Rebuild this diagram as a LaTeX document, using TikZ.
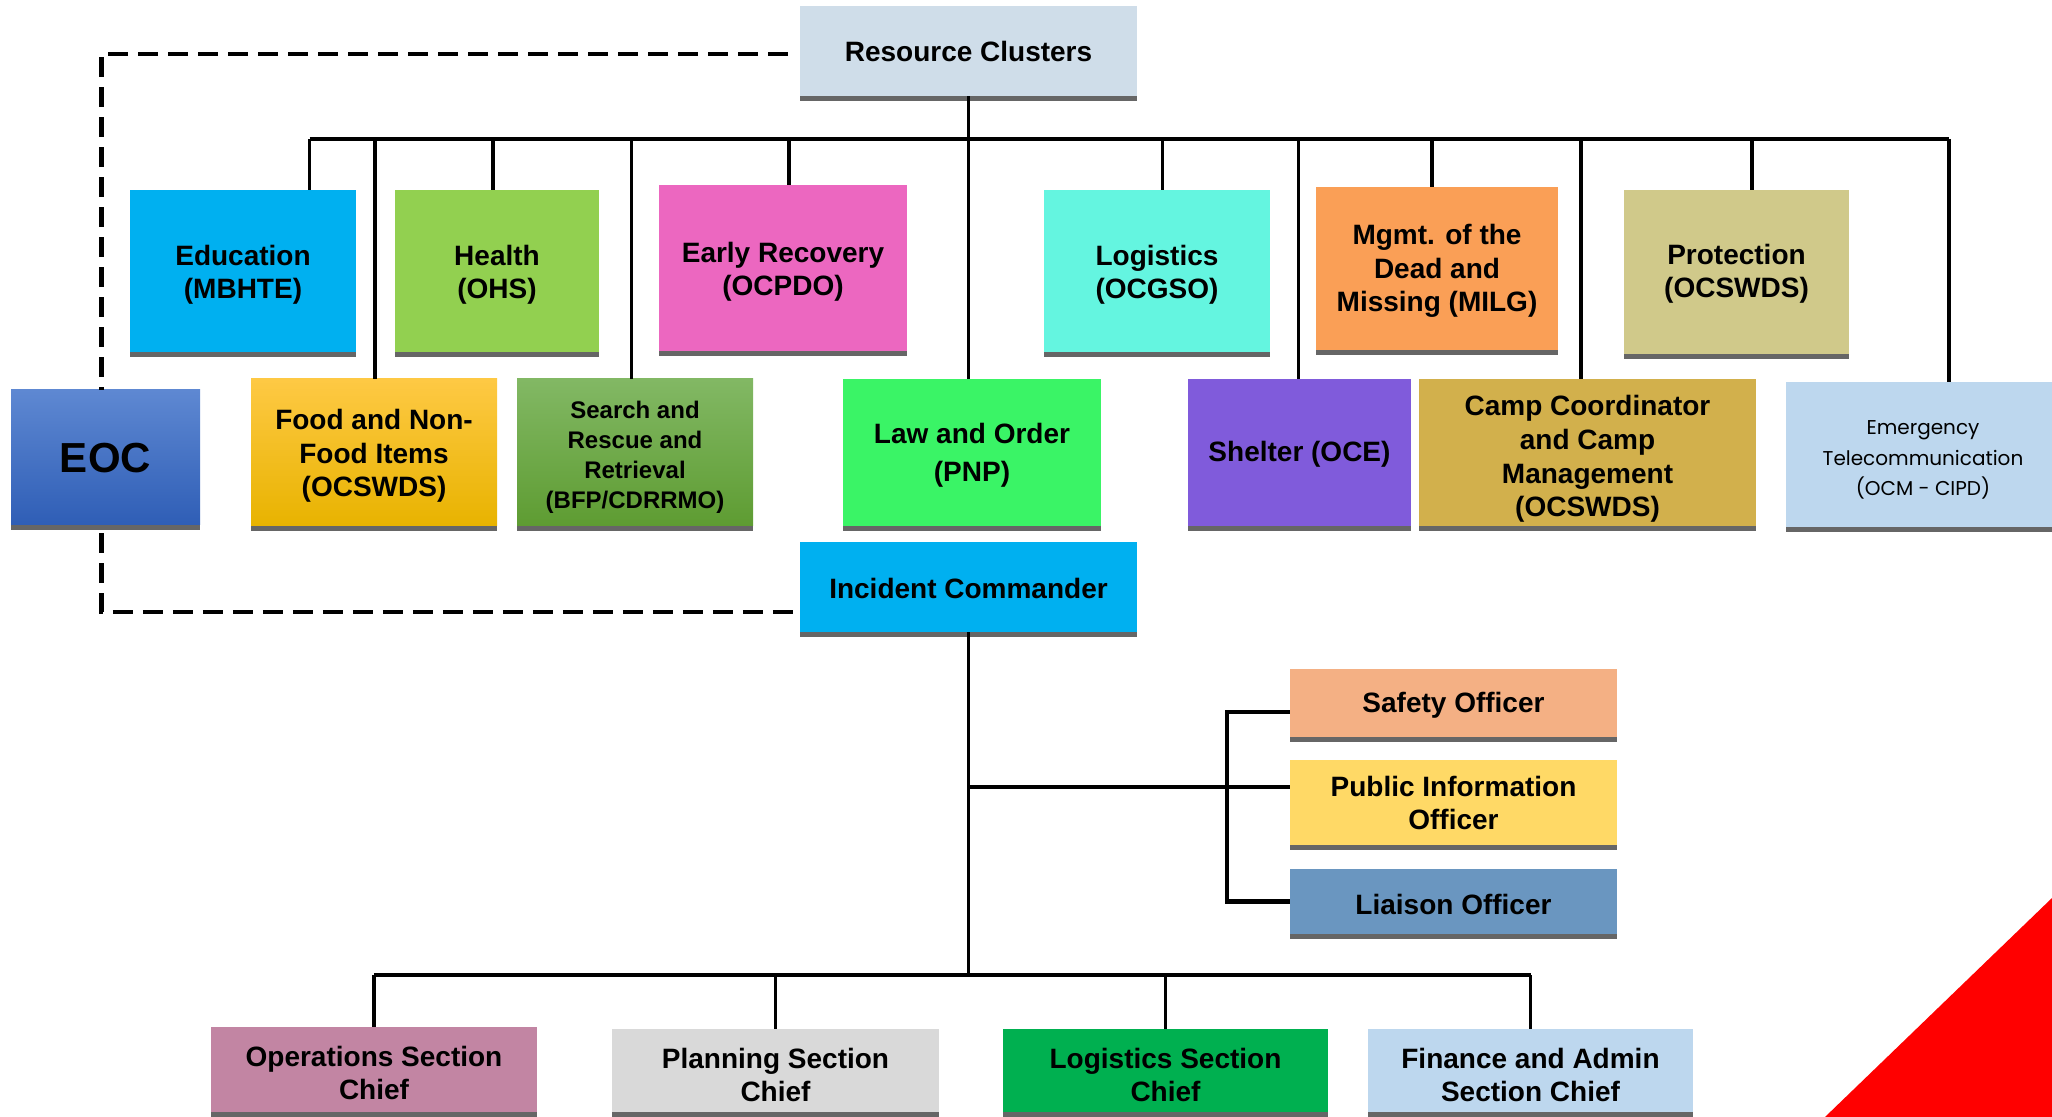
\documentclass[tikz,border=0pt]{standalone}
\usepackage{fontspec}
\setmainfont{Liberation Sans}
\newfontfamily\gothic{Poppins}
\usetikzlibrary{shadows}
\definecolor{cRC}{HTML}{CFDDE9}
\definecolor{cEdu}{HTML}{00B0F0}
\definecolor{cHealth}{HTML}{92D050}
\definecolor{cEarly}{HTML}{EC67C0}
\definecolor{cLogi}{HTML}{64F5E0}
\definecolor{cMgmt}{HTML}{FA9F56}
\definecolor{cProt}{HTML}{D0C98A}
\definecolor{cEocT}{HTML}{5E88D2}
\definecolor{cEocB}{HTML}{2F5EB6}
\definecolor{cFoodT}{HTML}{FEC944}
\definecolor{cFoodB}{HTML}{E8B300}
\definecolor{cSearchT}{HTML}{82B864}
\definecolor{cSearchB}{HTML}{5E9C32}
\definecolor{cLaw}{HTML}{3AF466}
\definecolor{cShelter}{HTML}{805BDB}
\definecolor{cCamp}{HTML}{D2B04C}
\definecolor{cEmerg}{HTML}{BDD7EE}
\definecolor{cSafety}{HTML}{F4B084}
\definecolor{cPio}{HTML}{FFD966}
\definecolor{cLiaison}{HTML}{6A96C0}
\definecolor{cOps}{HTML}{C285A3}
\definecolor{cPlan}{HTML}{D9D9D9}
\definecolor{cLogSec}{HTML}{00B050}
\definecolor{cRed}{HTML}{FF0000}
\tikzset{
  cbox/.style={rectangle, inner sep=0pt, align=center,
    font=\bfseries\fontsize{14}{16.5}\selectfont,
    general shadow={shadow yshift=-2.5pt, fill=black!60}},
  conn/.style={line width=1.8pt, black},
  busline/.style={line width=2.1pt, black},
  dashline/.style={line width=2.2pt, black, dash pattern=on 10pt off 5pt},
}
% #1 name, #2-#5 box corners (px), #6 style, #7 downward text shift, #8 text
\newcommand\bx[8]{\node[cbox,#6,minimum width={(#4-#2)*0.5pt},minimum height={(#5-#3)*0.5pt}] (#1) at ({(#2+#4)/2},{(#3+#5)/2}) {\raisebox{-#7}[\height][\depth]{\begin{tabular}{@{}c@{}}#8\end{tabular}}};}
\begin{document}
\begin{tikzpicture}[x=0.5pt,y=-0.5pt]
\useasboundingbox (0,0) rectangle (2052,1117);
% top row
\bx{rc}{800}{6}{1137}{96}{fill=cRC}{2pt}{Resource Clusters}
\bx{edu}{130}{190}{356}{352}{fill=cEdu}{2pt}{Education\\(MBHTE)}
\bx{health}{395}{190}{599}{352}{fill=cHealth}{2pt}{Health\\(OHS)}
\bx{early}{659}{185}{907}{351}{fill=cEarly}{2pt}{Early Recovery\\(OCPDO)}
\bx{logi}{1044}{190}{1270}{352}{fill=cLogi}{2pt}{Logistics\\(OCGSO)}
\bx{mgmt}{1316}{187}{1558}{350}{fill=cMgmt,font=\bfseries\fontsize{14}{16.7}\selectfont}{1.6pt}{Mgmt. of the\\Dead and\\Missing (MILG)}
\bx{prot}{1624}{190}{1849}{354}{fill=cProt}{1.4pt}{Protection\\(OCSWDS)}
% second row
\bx{eoc}{11}{390}{200}{525}{top color=cEocT,bottom color=cEocB,font=\bfseries\fontsize{21}{24}\selectfont}{2.6pt}{EOC}
\bx{food}{251}{379}{497}{526}{top color=cFoodT,bottom color=cFoodB,font=\bfseries\fontsize{14}{16.7}\selectfont}{2pt}{Food and Non-\\Food Items\\(OCSWDS)}
\bx{search}{517}{379}{753}{526}{top color=cSearchT,bottom color=cSearchB,font=\bfseries\fontsize{12}{15}\selectfont}{2.6pt}{Search and\\Rescue and\\Retrieval\\(BFP/CDRRMO)}
\bx{law}{843}{379}{1101}{526}{fill=cLaw,font=\bfseries\fontsize{14}{19}\selectfont}{1pt}{Law and Order\\(PNP)}
\bx{shelter}{1188}{379}{1411}{526}{fill=cShelter}{1.3pt}{Shelter (OCE)}
\bx{camp}{1419}{379}{1756}{526}{fill=cCamp,font=\bfseries\fontsize{14}{16.8}\selectfont}{3.5pt}{Camp Coordinator\\and Camp\\Management\\(OCSWDS)}
\bx{emerg}{1786}{382}{2060}{527}{fill=cEmerg,font=\gothic\fontsize{10}{15.4}\selectfont}{2.2pt}{Emergency\\Telecommunication\\(OCM - CIPD)}
% incident commander
\bx{ic}{800}{542}{1137}{632}{fill=cEdu}{2.6pt}{Incident Commander}
\bx{safety}{1290}{669}{1617}{737}{fill=cSafety}{1.3pt}{Safety Officer}
\bx{pio}{1290}{760}{1617}{845}{fill=cPio}{2pt}{Public Information\\Officer}
\bx{liaison}{1290}{869}{1617}{934}{fill=cLiaison}{3.2pt}{Liaison Officer}
% sections
\bx{ops}{211}{1027}{537}{1112}{fill=cOps}{3.2pt}{Operations Section\\Chief}
\bx{plan}{612}{1029}{939}{1112}{fill=cPlan}{3.8pt}{Planning Section\\Chief}
\bx{logsec}{1003}{1029}{1328}{1112}{fill=cLogSec}{4pt}{Logistics Section\\Chief}
\bx{fin}{1368}{1029}{1693}{1112}{fill=cEmerg}{3.8pt}{Finance and Admin\\Section Chief}
% top bus
\coordinate (busL) at (309.5,139);
\coordinate (busR) at (1949,139);
\draw[busline] (busL) -- (busR);
\draw[conn] (rc.south) -- (rc.south |- law.north);
\coordinate (sEdu) at (309.5,139);
\coordinate (sFood) at (375,139);
\coordinate (sHealth) at (493,139);
\coordinate (sSearch) at (631.5,139);
\coordinate (sEarly) at (789,139);
\coordinate (sLogi) at (1162.5,139);
\coordinate (sShelter) at (1298.5,139);
\coordinate (sMgmt) at (1432,139);
\coordinate (sCamp) at (1581,139);
\coordinate (sProt) at (1752,139);
\coordinate (sEmerg) at (1949,139);
\draw[conn] (sEdu) -- (sEdu |- edu.north);
\draw[conn] (sFood) -- (sFood |- food.north);
\draw[conn] (sHealth) -- (sHealth |- health.north);
\draw[conn] (sSearch) -- (sSearch |- search.north);
\draw[conn] (sEarly) -- (sEarly |- early.north);
\draw[conn] (sLogi) -- (sLogi |- logi.north);
\draw[conn] (sShelter) -- (sShelter |- shelter.north);
\draw[conn] (sMgmt) -- (sMgmt |- mgmt.north);
\draw[conn] (sCamp) -- (sCamp |- camp.north);
\draw[conn] (sProt) -- (sProt |- prot.north);
\draw[conn] (sEmerg) -- (sEmerg |- emerg.north);
% dashed EOC links
\coordinate (dTop) at (788,54);
\coordinate (dBot) at (800,612);
\draw[dashline] (dTop) -| ([xshift=-2pt]eoc.north);
\draw[dashline] ([xshift=-2pt,yshift=-4pt]eoc.south) |- (dBot);
% incident commander links
\coordinate (bb) at (970,975);
\coordinate (br) at (970,787);
\coordinate (brk) at (1227,787);
\draw[conn] (ic.south) -- (ic.south |- bb);
\draw[busline] (br) -- (br -| pio.west);
\draw[busline] ([yshift=-4.5pt]safety.west) -- ([yshift=-4.5pt]safety.west -| brk) -- (liaison.west -| brk) -- (liaison.west);
\draw[busline] (ops.north |- bb) -- (fin.north |- bb);
\draw[conn] (ops.north) -- (ops.north |- bb);
\draw[conn] (plan.north) -- (plan.north |- bb);
\draw[conn] (logsec.north) -- (logsec.north |- bb);
\draw[conn] (fin.north) -- (fin.north |- bb);
% red corner
\fill[cRed] (1825,1117) -- (2052,898) -- (2052,1117) -- cycle;
\end{tikzpicture}
\end{document}
